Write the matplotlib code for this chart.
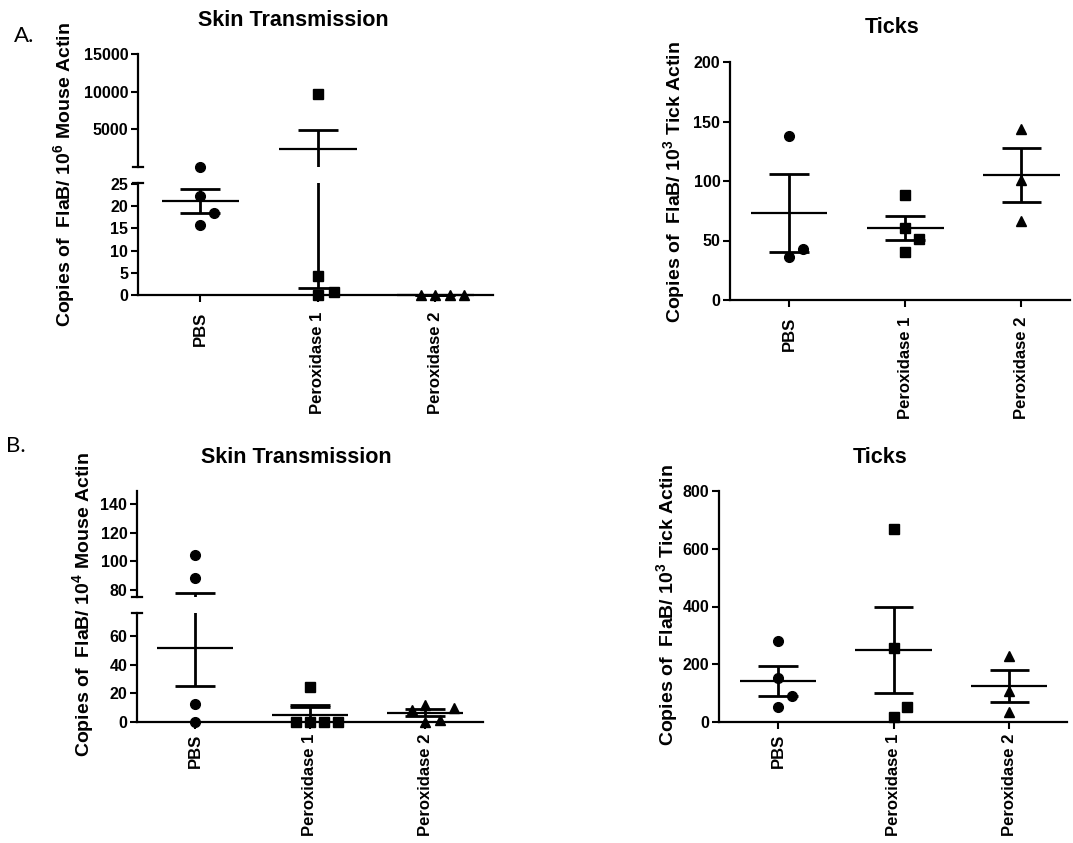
"""Four-panel FlaB copy number scatter (skin transmission / ticks) with mean +/- SEM."""

import matplotlib

matplotlib.use("Agg")
import matplotlib.pyplot as plt

W, H = 1073, 843

plt.rcParams["font.family"] = ["Liberation Sans", "DejaVu Sans"]
plt.rcParams["font.weight"] = "bold"
plt.rcParams["mathtext.fontset"] = "custom"
plt.rcParams["mathtext.rm"] = "Liberation Sans:bold"
plt.rcParams["mathtext.default"] = "rm"

GROUPS = ["PBS", "Peroxidase 1", "Peroxidase 2"]
MARKERS = ["o", "s", "^"]

# A. skin transmission, copies of FlaB / 10^6 mouse actin
a_skin_pbs = [28.5, 22.2, 18.5, 15.8]
a_skin_p1 = [9700, 4.3, 0.0, 0.7]
a_skin_p2 = [0.0, 0.0, 0.0, 0.0]
a_skin_mean = [21.2, 2430, 0.0]
a_skin_sem = [2.7, 2428.5, 0.0]
a_skin_jitter = [[0, 0, 0.12, 0], [0, 0, 0, 0.14], [-0.12, 0, 0.12, 0.24]]

# A. ticks, copies of FlaB / 10^3 tick actin
a_tick_pbs = [138, 36, 43]
a_tick_p1 = [88.5, 60.5, 51, 40.5]
a_tick_p2 = [144, 101, 66]
a_tick_mean = [73, 60.3, 105]
a_tick_sem = [33, 10.2, 22.5]
a_tick_jitter = [[0, 0, 0.12], [0, 0, 0.12, 0], [0, 0, 0]]

# B. skin transmission, copies of FlaB / 10^4 mouse actin
b_skin_pbs = [104, 88.4, 12.6, 0.0]
b_skin_p1 = [24.5, 0.0, 0.0, 0.0, 0.0]
b_skin_p2 = [8.5, 12, 10, 0.0, 1.5]
b_skin_mean = [51.4, 5.0, 6.6]
b_skin_sem = [26.4, 5.2, 2.4]
b_skin_jitter = [[0, 0, 0, 0], [0, -0.12, 0, 0.12, 0.24], [-0.11, 0, 0.25, 0, 0.13]]

# B. ticks, copies of FlaB / 10^3 tick actin
b_tick_pbs = [281, 152, 90, 52]
b_tick_p1 = [669, 256, 52, 17]
b_tick_p2 = [229, 108, 35]
b_tick_mean = [142, 249, 125]
b_tick_sem = [51, 150, 56]
b_tick_jitter = [[0, 0, 0.12, 0], [0, 0, 0.12, 0], [0, 0, 0]]


def px_axes(fig, left, top, right, bottom):
    return fig.add_axes([left / W, 1 - bottom / H, (right - left) / W, (bottom - top) / H])


def draw_panel(fig, left, right, xlim, segments, groups, means, sems, jitter, xpad=6):
    """segments: list of (top_px, bottom_px, ylim, ticks), ordered bottom segment first."""
    axes = []
    for i, (top, bottom, ylim, ticks) in enumerate(segments):
        ax = px_axes(fig, left, top, right, bottom)
        ax.set_xlim(*xlim)
        ax.set_ylim(*ylim)
        ax.patch.set_alpha(0)
        for side in ("top", "right"):
            ax.spines[side].set_visible(False)
        ax.spines["left"].set_linewidth(1.6)
        ax.spines["bottom"].set_linewidth(1.6)
        ax.set_yticks(ticks)
        ax.tick_params(axis="y", direction="out", length=5, width=1.5, labelsize=11.5, pad=2)
        if i == 0:
            ax.set_xticks(range(len(GROUPS)))
            ax.set_xticklabels(GROUPS, rotation=90, fontsize=12, fontweight="bold")
            ax.tick_params(axis="x", direction="out", length=5, width=1.5, pad=xpad)
        else:
            ax.spines["bottom"].set_visible(False)
            ax.set_xticks([])
        # break caps on the y axis
        d = 5 / (right - left)
        if len(segments) > 1:
            if i < len(segments) - 1:
                ax.plot([-d, d], [1, 1], transform=ax.transAxes, color="black", lw=1.6, clip_on=False)
            if i > 0:
                ax.plot([-d, d], [0, 0], transform=ax.transAxes, color="black", lw=1.6, clip_on=False)
        axes.append(ax)

    def home(value):
        for ax, seg in zip(axes, segments):
            lo, hi = seg[2]
            if lo - 1e-9 <= value <= hi:
                return ax
        return axes[-1]

    for g, (vals, mean, sem, jit) in enumerate(zip(groups, means, sems, jitter)):
        for ax in axes:
            ax.plot([g, g], [mean - sem, mean + sem], color="black", lw=2.0, solid_capstyle="butt")
        for y, half, lw in ((mean, 0.33, 1.6), (mean + sem, 0.17, 2.0), (mean - sem, 0.17, 2.0)):
            home(y).plot([g - half, g + half], [y, y], color="black", lw=lw, clip_on=False,
                         solid_capstyle="butt")
        for v, dx in zip(vals, jit):
            home(v).plot(g + dx, v, marker=MARKERS[g], color="black", ms=7, ls="none", clip_on=False,
                         zorder=3)
    return axes


fig = plt.figure(figsize=(W / 100, H / 100), dpi=100)

# Panel A, skin transmission
draw_panel(
    fig, 138, 493, (-0.53, 2.49),
    [(183, 295, (0, 25.2), [0, 5, 10, 15, 20, 25]),
     (54, 167, (0, 15000), [5000, 10000, 15000])],
    [a_skin_pbs, a_skin_p1, a_skin_p2], a_skin_mean, a_skin_sem, a_skin_jitter, xpad=7,
)
# Panel A, ticks
draw_panel(
    fig, 730, 1070, (-0.51, 2.42),
    [(62, 300, (0, 200), [0, 50, 100, 150, 200])],
    [a_tick_pbs, a_tick_p1, a_tick_p2], a_tick_mean, a_tick_sem, a_tick_jitter, xpad=7,
)
# Panel B, skin transmission
draw_panel(
    fig, 137, 483, (-0.504, 2.504),
    [(613, 722, (0, 76), [0, 20, 40, 60]),
     (491, 597, (75, 149), [80, 100, 120, 140])],
    [b_skin_pbs, b_skin_p1, b_skin_p2], b_skin_mean, b_skin_sem, b_skin_jitter, xpad=3.5,
)
# Panel B, ticks
draw_panel(
    fig, 719, 1067, (-0.51, 2.50),
    [(491, 722, (0, 800), [0, 200, 400, 600, 800])],
    [b_tick_pbs, b_tick_p1, b_tick_p2], b_tick_mean, b_tick_sem, b_tick_jitter, xpad=3.5,
)

# titles, y labels and panel letters
def fig_text(x, y, s, **kw):
    fig.text(x / W, 1 - y / H, s, **kw)


for x, y, s in ((293, 26, "Skin Transmission"), (892, 33, "Ticks"),
                (296, 463, "Skin Transmission"), (880, 463, "Ticks")):
    fig_text(x, y, s, ha="center", va="baseline", fontsize=15.5, fontweight="bold")

for x, y, s in ((64, 175, r"Copies of  FlaB/ 10$^{6}$ Mouse Actin"),
                (674, 182, r"Copies of  FlaB/ 10$^{3}$ Tick Actin"),
                (83, 605, r"Copies of  FlaB/ 10$^{4}$ Mouse Actin"),
                (667, 605, r"Copies of  FlaB/ 10$^{3}$ Tick Actin")):
    fig_text(x, y, s, ha="center", va="center", rotation=90, fontsize=14, fontweight="bold")

fig_text(14, 42, "A.", fontsize=16, fontweight="normal", family=["Lato", "DejaVu Sans"])
fig_text(6, 452, "B.", fontsize=16, fontweight="normal", family=["Lato", "DejaVu Sans"])

fig.savefig("out.png", dpi=100)
